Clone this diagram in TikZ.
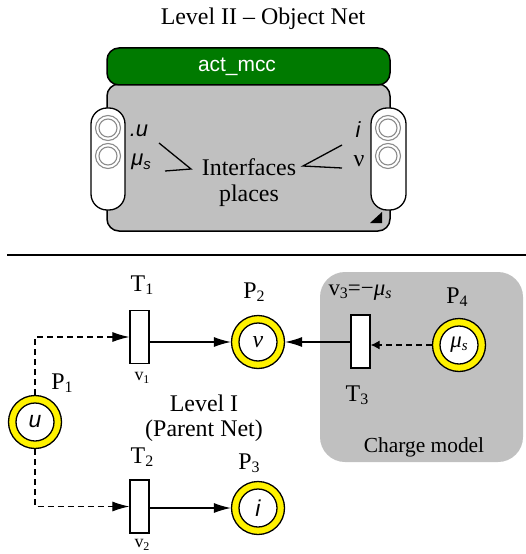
\documentclass[tikz,border=0pt]{standalone}
\usepackage{fontspec}
\setmainfont{Liberation Serif}
\setsansfont{Liberation Sans}
\usetikzlibrary{arrows.meta}
\definecolor{boxgray}{HTML}{C0C0C0}
\definecolor{ringgray}{HTML}{8C8C8C}
\definecolor{bargreen}{HTML}{007A00}
\newcommand\fs[1]{\fontsize{#1}{#1}\selectfont}
\newcommand\sbx[2]{\raisebox{-0.3ex}{\fs{#1}#2}}
\begin{document}
\begin{tikzpicture}[x=1bp,y=-1bp,
  lbl/.style={inner sep=0pt, font=\fs{24}},
  trans/.style={draw, fill=white, line width=1.3bp, minimum width=19bp, minimum height=53bp, inner sep=0pt},
  place/.style={circle, draw, fill=yellow, line width=1.3bp, minimum size=53bp, inner sep=0pt,
    path picture={\draw[fill=white, line width=1.3bp] (path picture bounding box.center) circle (19bp);}},
  arr/.style={line width=1.1bp, -{Latex[length=17bp,width=10bp]}},
  darr/.style={line width=1.1bp, dash pattern=on 6bp off 4bp, -{Latex[length=17bp,width=10bp]}},
  sarr/.style={line width=1.1bp, dash pattern=on 6bp off 4bp, -{Latex[length=9bp,width=9bp]}},
  pill/.style={draw, fill=white, line width=1.3bp, rounded corners=16bp},
  ring/.style={draw=ringgray, line width=1.1bp}
]
\useasboundingbox (0,0) rectangle (526,554);
% ---------- Level II
\node[lbl] (title) at (263,19) {Level II -- Object Net};
\draw[fill=boxgray, line width=1.5bp, rounded corners=12bp] (107,84) rectangle (390,231);
\draw[fill=bargreen, line width=1.5bp, rounded corners=12bp] (107,48) rectangle (390,85);
\node[inner sep=0pt, font=\sffamily\fs{21}, text=white] (act) at (237,67) {act\_mcc};
\draw[pill] (91,108) rectangle (125,210);
\draw[pill] (371,108) rectangle (406,210);
\foreach \cx in {108,388}{
  \foreach \cy in {128,156}{
    \draw[ring] (\cx,\cy) circle (12.5bp);
    \draw[ring] (\cx,\cy) circle (9bp);
  }
}
\node[inner sep=0pt, font=\sffamily\itshape\fs{22}] (iu) at (139,131) {.u};
\node[inner sep=0pt, font=\sffamily\itshape\fs{22}] (ims) at (141,162) {μ\sbx{15}{s}};
\node[inner sep=0pt, font=\sffamily\itshape\fs{22}] (ii) at (358,130) {i};
\node[inner sep=0pt, font=\fs{24}] (inu) at (359,161) {ν};
\node[inner sep=0pt, font=\fs{24}] (ifp1) at (249,167) {Interfaces};
\node[inner sep=0pt, font=\fs{24}] (ifp2) at (249,196) {places};
\coordinate (l1) at (159,143);
\coordinate (l2) at (191,169);
\coordinate (l3) at (165,171);
\draw[line width=1.3bp] (l1) -- (l2) -- (l3);
\coordinate (r1) at (342,145);
\coordinate (r2) at (303,166);
\coordinate (r3) at (342,168);
\draw[line width=1.3bp] (r1) -- (r2) -- (r3);
\fill (370,223) -- (382,223) -- (382,212) -- cycle;
% separator
\draw[line width=1.5bp] (7,255) -- (526,255);
% ---------- Level I
\fill[boxgray, rounded corners=25bp] (320,272) rectangle (523,462);
\node[trans] (T1) at (139.5,337) {};
\node[trans] (T2) at (139.5,506.5) {};
\node[trans] (T3) at (360.5,341.5) {};
\node[place] (P1) at (35,422) {\sffamily\itshape\fs{23}u};
\node[place] (P2) at (258,342) {\itshape\fs{24}ν};
\node[place] (P3) at (258,508) {\sffamily\itshape\fs{23}i};
\node[place] (P4) at (459,345) {\itshape\fs{23}μ\sbx{15}{s}};
\node[lbl] (T1l) at (142,285) {T\sbx{16}{1}};
\node[lbl] (T2l) at (142,457) {T\sbx{16}{2}};
\node[lbl] (T3l) at (357,395) {T\sbx{16}{3}};
\node[lbl] (P1l) at (62,383) {P\sbx{16}{1}};
\node[lbl] (P2l) at (254,292) {P\sbx{16}{2}};
\node[lbl] (P3l) at (249,463) {P\sbx{16}{3}};
\node[lbl] (P4l) at (457,297) {P\sbx{16}{4}};
\node[lbl, font=\fs{18}] (v1) at (142,378) {v\sbx{12}{1}};
\node[lbl, font=\fs{18}] (v2) at (142,545) {v\sbx{12}{2}};
\node[lbl, font=\fs{23}] (v3) at (360,293) {v\sbx{16}{3}=−\textit{μ}\sbx{16}{\textit{s}}};
\node[lbl, font=\fs{21.5}] (cm) at (424,447) {Charge model};
\node[lbl] (lev1) at (204,403) {Level I};
\node[lbl] (lev2) at (204,431) {(Parent Net)};
% arcs
\draw[darr] (P1.north) |- (T1.west);
\draw[darr] (P1.south) |- (T2.west);
\draw[arr] (T1.east |- P2.west) -- (P2.west);
\draw[arr] (T2.east |- P3.west) -- (P3.west);
\draw[arr] (T3.west |- P2.east) -- (P2.east);
\draw[sarr] (P4.west) -- (P4.west -| T3.east);
\end{tikzpicture}
\end{document}
